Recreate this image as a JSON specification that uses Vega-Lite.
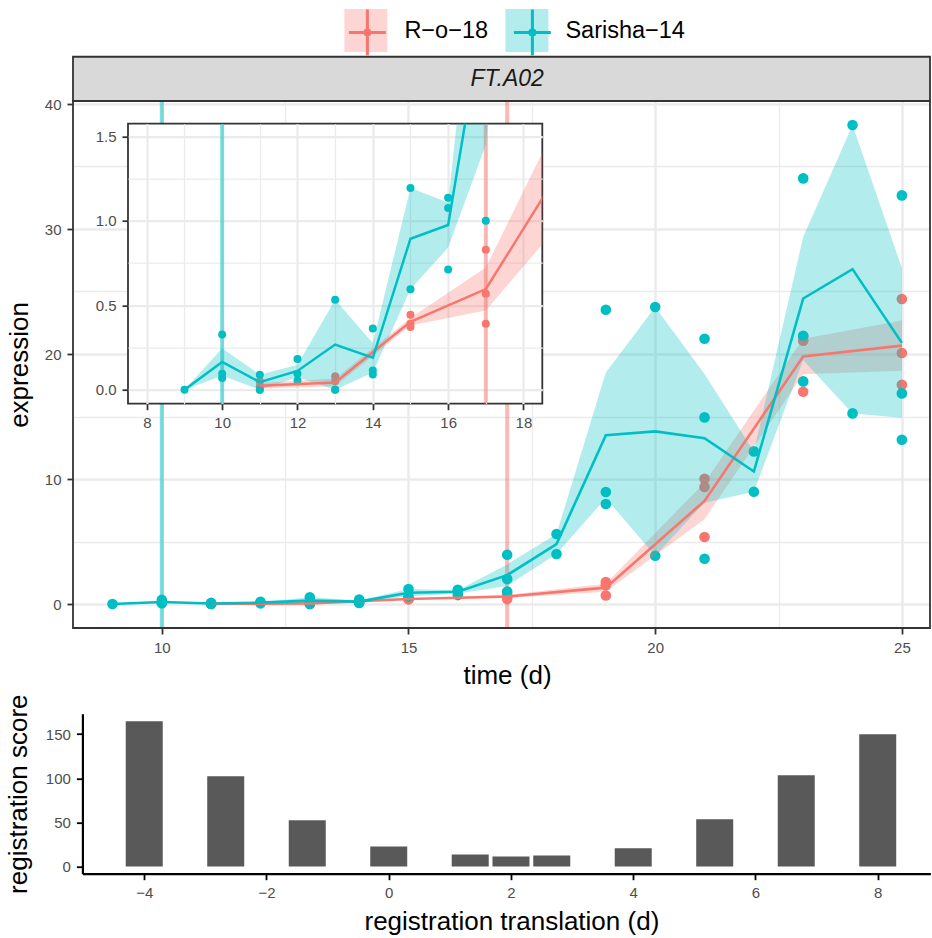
{
  "$schema": "https://vega.github.io/schema/vega-lite/v6.json",
  "padding": {"left": 5, "top": 9, "right": 0, "bottom": 0},
  "background": "white",
  "config": {
    "font": "Liberation Sans",
    "view": {"stroke": null},
    "axis": {
      "labelFont": "Liberation Sans", "titleFont": "Liberation Sans",
      "labelFontSize": 15, "labelColor": "#4D4D4D",
      "tickColor": "#333333", "tickSize": 6, "tickWidth": 1.8, "labelPadding": 6,
      "titleFontSize": 26, "titleFontWeight": "normal", "titleColor": "#000000",
      "gridColor": "#EBEBEB", "domain": false, "labelFlush": false, "labelOverlap": false
    },
    "legend": {"labelFont": "Liberation Sans"}
  },
  "datasets": {
    "pts": [
      {"series": "R−o−18", "time": 11, "expression": 0.05},
      {"series": "R−o−18", "time": 11, "expression": 0.02},
      {"series": "R−o−18", "time": 11, "expression": 0.0},
      {"series": "R−o−18", "time": 13, "expression": 0.08},
      {"series": "R−o−18", "time": 13, "expression": 0.05},
      {"series": "R−o−18", "time": 13, "expression": 0.0},
      {"series": "R−o−18", "time": 15, "expression": 0.444},
      {"series": "R−o−18", "time": 15, "expression": 0.391},
      {"series": "R−o−18", "time": 15, "expression": 0.371},
      {"series": "R−o−18", "time": 17, "expression": 0.829},
      {"series": "R−o−18", "time": 17, "expression": 0.568},
      {"series": "R−o−18", "time": 17, "expression": 0.391},
      {"series": "R−o−18", "time": 19, "expression": 1.75},
      {"series": "R−o−18", "time": 19, "expression": 1.5},
      {"series": "R−o−18", "time": 19, "expression": 0.68},
      {"series": "R−o−18", "time": 21, "expression": 10.02},
      {"series": "R−o−18", "time": 21, "expression": 9.36},
      {"series": "R−o−18", "time": 21, "expression": 5.36},
      {"series": "R−o−18", "time": 23, "expression": 21.4},
      {"series": "R−o−18", "time": 23, "expression": 21.06},
      {"series": "R−o−18", "time": 23, "expression": 16.98},
      {"series": "R−o−18", "time": 25, "expression": 24.4},
      {"series": "R−o−18", "time": 25, "expression": 20.08},
      {"series": "R−o−18", "time": 25, "expression": 17.54},
      {"series": "Sarisha−14", "time": 9, "expression": 0.0},
      {"series": "Sarisha−14", "time": 10, "expression": 0.327},
      {"series": "Sarisha−14", "time": 10, "expression": 0.095},
      {"series": "Sarisha−14", "time": 10, "expression": 0.069},
      {"series": "Sarisha−14", "time": 11, "expression": 0.089},
      {"series": "Sarisha−14", "time": 11, "expression": 0.0},
      {"series": "Sarisha−14", "time": 12, "expression": 0.182},
      {"series": "Sarisha−14", "time": 12, "expression": 0.095},
      {"series": "Sarisha−14", "time": 12, "expression": 0.055},
      {"series": "Sarisha−14", "time": 13, "expression": 0.533},
      {"series": "Sarisha−14", "time": 13, "expression": 0.0},
      {"series": "Sarisha−14", "time": 14, "expression": 0.363},
      {"series": "Sarisha−14", "time": 14, "expression": 0.114},
      {"series": "Sarisha−14", "time": 14, "expression": 0.09},
      {"series": "Sarisha−14", "time": 15, "expression": 1.194},
      {"series": "Sarisha−14", "time": 15, "expression": 0.594},
      {"series": "Sarisha−14", "time": 16, "expression": 1.137},
      {"series": "Sarisha−14", "time": 16, "expression": 1.076},
      {"series": "Sarisha−14", "time": 16, "expression": 0.712},
      {"series": "Sarisha−14", "time": 17, "expression": 3.94},
      {"series": "Sarisha−14", "time": 17, "expression": 2.0},
      {"series": "Sarisha−14", "time": 17, "expression": 1.0},
      {"series": "Sarisha−14", "time": 18, "expression": 5.6},
      {"series": "Sarisha−14", "time": 18, "expression": 4.0},
      {"series": "Sarisha−14", "time": 19, "expression": 23.54},
      {"series": "Sarisha−14", "time": 19, "expression": 8.96},
      {"series": "Sarisha−14", "time": 19, "expression": 8.0},
      {"series": "Sarisha−14", "time": 20, "expression": 23.76},
      {"series": "Sarisha−14", "time": 20, "expression": 3.86},
      {"series": "Sarisha−14", "time": 21, "expression": 21.22},
      {"series": "Sarisha−14", "time": 21, "expression": 14.93},
      {"series": "Sarisha−14", "time": 21, "expression": 3.62},
      {"series": "Sarisha−14", "time": 22, "expression": 12.21},
      {"series": "Sarisha−14", "time": 22, "expression": 8.98},
      {"series": "Sarisha−14", "time": 23, "expression": 34.05},
      {"series": "Sarisha−14", "time": 23, "expression": 21.46},
      {"series": "Sarisha−14", "time": 23, "expression": 17.81},
      {"series": "Sarisha−14", "time": 24, "expression": 38.32},
      {"series": "Sarisha−14", "time": 24, "expression": 15.25},
      {"series": "Sarisha−14", "time": 25, "expression": 32.69},
      {"series": "Sarisha−14", "time": 25, "expression": 16.85},
      {"series": "Sarisha−14", "time": 25, "expression": 13.14}
    ],
    "summ": [
      {"series": "R−o−18", "time": 11, "mean": 0.023, "lo": 0.007, "hi": 0.04},
      {"series": "R−o−18", "time": 13, "mean": 0.043, "lo": 0.02, "hi": 0.066},
      {"series": "R−o−18", "time": 15, "mean": 0.402, "lo": 0.38, "hi": 0.424},
      {"series": "R−o−18", "time": 17, "mean": 0.596, "lo": 0.469, "hi": 0.723},
      {"series": "R−o−18", "time": 19, "mean": 1.31, "lo": 0.99, "hi": 1.63},
      {"series": "R−o−18", "time": 21, "mean": 8.25, "lo": 6.79, "hi": 9.71},
      {"series": "R−o−18", "time": 23, "mean": 19.81, "lo": 18.39, "hi": 21.23},
      {"series": "R−o−18", "time": 25, "mean": 20.67, "lo": 18.67, "hi": 22.68},
      {"series": "Sarisha−14", "time": 9, "mean": 0.0, "lo": 0.0, "hi": 0.0},
      {"series": "Sarisha−14", "time": 10, "mean": 0.164, "lo": 0.082, "hi": 0.246},
      {"series": "Sarisha−14", "time": 11, "mean": 0.045, "lo": 0.0, "hi": 0.089},
      {"series": "Sarisha−14", "time": 12, "mean": 0.111, "lo": 0.073, "hi": 0.148},
      {"series": "Sarisha−14", "time": 13, "mean": 0.267, "lo": 0.0, "hi": 0.533},
      {"series": "Sarisha−14", "time": 14, "mean": 0.189, "lo": 0.102, "hi": 0.276},
      {"series": "Sarisha−14", "time": 15, "mean": 0.894, "lo": 0.594, "hi": 1.194},
      {"series": "Sarisha−14", "time": 16, "mean": 0.975, "lo": 0.842, "hi": 1.108},
      {"series": "Sarisha−14", "time": 17, "mean": 2.31, "lo": 1.45, "hi": 3.17},
      {"series": "Sarisha−14", "time": 18, "mean": 4.8, "lo": 4.0, "hi": 5.6},
      {"series": "Sarisha−14", "time": 19, "mean": 13.5, "lo": 8.47, "hi": 18.53},
      {"series": "Sarisha−14", "time": 20, "mean": 13.81, "lo": 3.86, "hi": 23.76},
      {"series": "Sarisha−14", "time": 21, "mean": 13.26, "lo": 8.11, "hi": 18.41},
      {"series": "Sarisha−14", "time": 22, "mean": 10.6, "lo": 8.98, "hi": 12.21},
      {"series": "Sarisha−14", "time": 23, "mean": 24.44, "lo": 19.52, "hi": 29.36},
      {"series": "Sarisha−14", "time": 24, "mean": 26.79, "lo": 15.25, "hi": 38.32},
      {"series": "Sarisha−14", "time": 25, "mean": 20.89, "lo": 14.9, "hi": 26.88}
    ],
    "vl": [
      {"series": "Sarisha−14", "time": 10},
      {"series": "R−o−18", "time": 17}
    ],
    "strip": [{"gene": "FT.A02"}],
    "reg": [
      {"translation": -4, "score": 164.8},
      {"translation": -2.667, "score": 102.3},
      {"translation": -1.333, "score": 52.3},
      {"translation": 0, "score": 22.7},
      {"translation": 1.333, "score": 13.6},
      {"translation": 2, "score": 11.4},
      {"translation": 2.667, "score": 12.5},
      {"translation": 4, "score": 20.5},
      {"translation": 5.333, "score": 53.4},
      {"translation": 6.667, "score": 103.4},
      {"translation": 8, "score": 150}
    ]
  },
  "vconcat": [
    {
      "bounds": "flush",
      "spacing": 0,
      "hconcat": [
        {
          "width": 54.4,
          "height": 527,
          "layer": [
            {
              "data": {"name": "strip"},
              "mark": {"type": "rect", "fill": "#D9D9D9", "stroke": "#333333", "strokeWidth": 1.8},
              "encoding": {
                "x": {"datum": 8.2, "type": "quantitative", "title": "time (d)"},
                "x2": {"datum": 25.57},
                "y": {"datum": 40.24, "type": "quantitative", "title": "expression"},
                "y2": {"datum": 43.78}
              }
            },
            {
              "data": {"name": "strip"},
              "mark": {"type": "text", "fontSize": 23, "fontStyle": "italic", "color": "#1A1A1A", "font": "Liberation Sans"},
              "encoding": {
                "text": {"field": "gene"},
                "x": {"datum": 17.0, "type": "quantitative", "title": "time (d)"},
                "y": {"datum": 42.0, "type": "quantitative", "title": "expression"}
              }
            },
            {
              "data": {"name": "vl"},
              "mark": {"type": "rule", "strokeWidth": 4, "opacity": 0.5},
              "encoding": {
                "x": {"field": "time", "type": "quantitative", "title": "time (d)",
                  "scale": {"domain": [8.2, 25.57], "range": [0, 857], "nice": false, "zero": false},
                  "axis": {
                    "values": [10, 12.5, 15, 17.5, 20, 22.5, 25],
                    "tickCount": 30, "format": "d",
                    "labelExpr": "datum.value % 5 === 0 ? datum.label : ''",
                    "tickOpacity": {"condition": {"test": "datum.value % 5 !== 0", "value": 0}, "value": 1},
                    "grid": true,
                    "gridWidth": {"condition": {"test": "datum.value % 5 !== 0", "value": 1.3}, "value": 2.5},
                    "titleX": 434, "titlePadding": 7
                  }
                },
                "stroke": {"field": "series", "type": "nominal",
                  "scale": {"domain": ["R−o−18", "Sarisha−14"], "range": ["#F8766D", "#00BFC4"]},
                  "legend": {
                    "title": null, "orient": "none", "legendX": 271.4, "legendY": -92,
                    "direction": "horizontal",
                    "symbolType": "M-0.86,0H0.86M0,-1.07V1.07M0.12,0A0.12,0.12,0,1,1,-0.12,0A0.12,0.12,0,1,1,0.12,0",
                    "symbolSize": 1849, "symbolStrokeWidth": 3, "symbolOpacity": 1,
                    "labelFontSize": 23.5, "labelExpr": "''", "labelOffset": 17,
                    "columnPadding": 100, "padding": 0
                  }
                }
              }
            },
            {
              "data": {"name": "pts"},
              "mark": {"type": "circle", "size": 113, "opacity": 1},
              "encoding": {
                "x": {"field": "time", "type": "quantitative", "title": "time (d)"},
                "y": {"field": "expression", "type": "quantitative", "title": "expression",
                  "scale": {"domain": [-1.92, 40.24], "nice": false, "zero": false},
                  "axis": {
                    "values": [0, 5, 10, 15, 20, 25, 30, 35, 40],
                    "tickCount": 30, "format": "d",
                    "labelExpr": "datum.value % 10 === 0 ? datum.label : ''",
                    "tickOpacity": {"condition": {"test": "datum.value % 10 !== 0", "value": 0}, "value": 1},
                    "grid": true,
                    "gridWidth": {"condition": {"test": "datum.value % 10 !== 0", "value": 1.3}, "value": 2.5},
                    "titlePadding": 11.6
                  }
                },
                "fill": {"field": "series", "type": "nominal", "scale": {"range": ["#F8766D", "#00BFC4"]},
                  "legend": {
                    "title": null, "orient": "none", "legendX": 271.4, "legendY": -92,
                    "direction": "horizontal", "symbolType": "square", "symbolSize": 1849,
                    "symbolStrokeWidth": 0, "symbolOpacity": 0.3,
                    "labelFontSize": 23.5, "labelColor": "#000000", "labelOffset": 17,
                    "columnPadding": 17, "padding": 0
                  }
                }
              }
            },
            {
              "data": {"name": "summ"},
              "mark": {"type": "area", "opacity": 0.3},
              "encoding": {
                "x": {"field": "time", "type": "quantitative", "title": "time (d)"},
                "y": {"field": "lo", "type": "quantitative", "title": "expression"},
                "y2": {"field": "hi"},
                "fill": {"field": "series", "type": "nominal",
                  "legend": {
                    "title": null, "orient": "none", "legendX": 271.4, "legendY": -92,
                    "direction": "horizontal", "symbolType": "square", "symbolSize": 1849,
                    "symbolStrokeWidth": 0, "symbolOpacity": 0.3,
                    "labelFontSize": 23.5, "labelColor": "#000000", "labelOffset": 17,
                    "columnPadding": 17, "padding": 0
                  }
                }
              }
            },
            {
              "data": {"name": "summ"},
              "mark": {"type": "line", "strokeWidth": 2.6},
              "encoding": {
                "x": {"field": "time", "type": "quantitative", "title": "time (d)"},
                "y": {"field": "mean", "type": "quantitative", "title": "expression"},
                "stroke": {"field": "series", "type": "nominal",
                  "legend": {
                    "title": null, "orient": "none", "legendX": 271.4, "legendY": -92,
                    "direction": "horizontal",
                    "symbolType": "M-0.86,0H0.86M0,-1.07V1.07M0.12,0A0.12,0.12,0,1,1,-0.12,0A0.12,0.12,0,1,1,0.12,0",
                    "symbolSize": 1849, "symbolStrokeWidth": 3, "symbolOpacity": 1,
                    "labelFontSize": 23.5, "labelExpr": "''", "labelOffset": 17,
                    "columnPadding": 100, "padding": 0
                  }
                }
              }
            },
            {
              "data": {"name": "strip"},
              "mark": {"type": "rect", "fill": "transparent", "stroke": "#333333", "strokeWidth": 1.8},
              "encoding": {
                "x": {"datum": 8.2, "type": "quantitative", "title": "time (d)"},
                "x2": {"datum": 25.57},
                "y": {"datum": -1.92, "type": "quantitative", "title": "expression"},
                "y2": {"datum": 40.24}
              }
            }
          ]
        },
        {
          "bounds": "flush",
          "spacing": 21.7,
          "vconcat": [
            {
              "width": 1, "height": 1,
              "data": {"values": [{"d": 0}]},
              "mark": {"type": "point", "opacity": 0}
            },
            {
              "width": 414.3,
              "height": 280,
              "view": {"fill": "white", "stroke": "#333333", "strokeWidth": 1.8},
              "layer": [
                {
                  "data": {"name": "vl"},
                  "mark": {"type": "rule", "strokeWidth": 4, "opacity": 0.5, "clip": true},
                  "encoding": {
                    "x": {"field": "time", "type": "quantitative", "title": null,
                      "scale": {"domain": [7.5, 18.5], "nice": false, "zero": false},
                      "axis": {
                        "values": [8, 9, 10, 11, 12, 13, 14, 15, 16, 17, 18],
                        "tickCount": 30, "format": "d",
                        "labelExpr": "datum.value % 2 === 0 ? datum.label : ''",
                        "tickOpacity": {"condition": {"test": "datum.value % 2 !== 0", "value": 0}, "value": 1},
                        "grid": true,
                        "gridWidth": {"condition": {"test": "datum.value % 2 !== 0", "value": 1.2}, "value": 2.2}
                      }
                    },
                    "stroke": {"field": "series", "type": "nominal",
                      "legend": {
                        "title": null, "orient": "none", "legendX": 271.4, "legendY": -92,
                        "direction": "horizontal",
                        "symbolType": "M-0.86,0H0.86M0,-1.07V1.07M0.12,0A0.12,0.12,0,1,1,-0.12,0A0.12,0.12,0,1,1,0.12,0",
                        "symbolSize": 1849, "symbolStrokeWidth": 3, "symbolOpacity": 1,
                        "labelFontSize": 23.5, "labelExpr": "''", "labelOffset": 17,
                        "columnPadding": 100, "padding": 0
                      }
                    }
                  }
                },
                {
                  "data": {"name": "pts"},
                  "mark": {"type": "circle", "size": 64, "opacity": 1, "clip": true},
                  "encoding": {
                    "x": {"field": "time", "type": "quantitative", "title": null},
                    "y": {"field": "expression", "type": "quantitative", "title": null,
                      "scale": {"domain": [-0.083, 1.575], "nice": false, "zero": false},
                      "axis": {
                        "values": [0, 0.25, 0.5, 0.75, 1, 1.25, 1.5],
                        "tickCount": 30,
                        "format": ".1f",
                        "labelExpr": "datum.value % 0.5 === 0 ? datum.label : ''",
                        "tickOpacity": {"condition": {"test": "datum.value % 0.5 !== 0", "value": 0}, "value": 1},
                        "grid": true,
                        "gridWidth": {"condition": {"test": "datum.value % 0.5 !== 0", "value": 1.2}, "value": 2.2}
                      }
                    },
                    "fill": {"field": "series", "type": "nominal",
                      "legend": {
                        "title": null, "orient": "none", "legendX": 271.4, "legendY": -92,
                        "direction": "horizontal", "symbolType": "square", "symbolSize": 1849,
                        "symbolStrokeWidth": 0, "symbolOpacity": 0.3,
                        "labelFontSize": 23.5, "labelColor": "#000000", "labelOffset": 17,
                        "columnPadding": 17, "padding": 0
                      }
                    }
                  }
                },
                {
                  "data": {"name": "summ"},
                  "mark": {"type": "area", "opacity": 0.3, "clip": true},
                  "encoding": {
                    "x": {"field": "time", "type": "quantitative", "title": null},
                    "y": {"field": "lo", "type": "quantitative", "title": null},
                    "y2": {"field": "hi"},
                    "fill": {"field": "series", "type": "nominal",
                      "legend": {
                        "title": null, "orient": "none", "legendX": 271.4, "legendY": -92,
                        "direction": "horizontal", "symbolType": "square", "symbolSize": 1849,
                        "symbolStrokeWidth": 0, "symbolOpacity": 0.3,
                        "labelFontSize": 23.5, "labelColor": "#000000", "labelOffset": 17,
                        "columnPadding": 17, "padding": 0
                      }
                    }
                  }
                },
                {
                  "data": {"name": "summ"},
                  "mark": {"type": "line", "strokeWidth": 2.5, "clip": true},
                  "encoding": {
                    "x": {"field": "time", "type": "quantitative", "title": null},
                    "y": {"field": "mean", "type": "quantitative", "title": null},
                    "stroke": {"field": "series", "type": "nominal",
                      "legend": {
                        "title": null, "orient": "none", "legendX": 271.4, "legendY": -92,
                        "direction": "horizontal",
                        "symbolType": "M-0.86,0H0.86M0,-1.07V1.07M0.12,0A0.12,0.12,0,1,1,-0.12,0A0.12,0.12,0,1,1,0.12,0",
                        "symbolSize": 1849, "symbolStrokeWidth": 3, "symbolOpacity": 1,
                        "labelFontSize": 23.5, "labelExpr": "''", "labelOffset": 17,
                        "columnPadding": 100, "padding": 0
                      }
                    }
                  }
                }
              ]
            }
          ]
        }
      ]
    },
    {
      "width": 857.4,
      "height": 160,
      "data": {"name": "reg"},
      "mark": {"type": "bar", "size": 37, "color": "#595959"},
      "encoding": {
        "x": {"field": "translation", "type": "quantitative",
          "scale": {"domain": [-4.93, 8.78], "range": [9.4, 857.4], "nice": false, "zero": false},
          "axis": {"values": [-4, -2, 0, 2, 4, 6, 8], "tickCount": 30, "format": "d", "domain": true, "domainColor": "#000000", "domainWidth": 2.2,
            "tickColor": "#000000", "grid": false, "title": "registration translation (d)", "titleX": 438.4, "titlePadding": 8}},
        "y": {"field": "score", "type": "quantitative",
          "scale": {"domain": [-8.25, 173.25], "nice": false},
          "axis": {"values": [0, 50, 100, 150], "tickCount": 30, "format": "d", "domain": true, "domainColor": "#000000", "domainWidth": 2.2,
            "tickColor": "#000000", "grid": false, "title": "registration score", "titlePadding": 14, "offset": -9.4}}
      }
    }
  ],
  "spacing": 5.7
}
